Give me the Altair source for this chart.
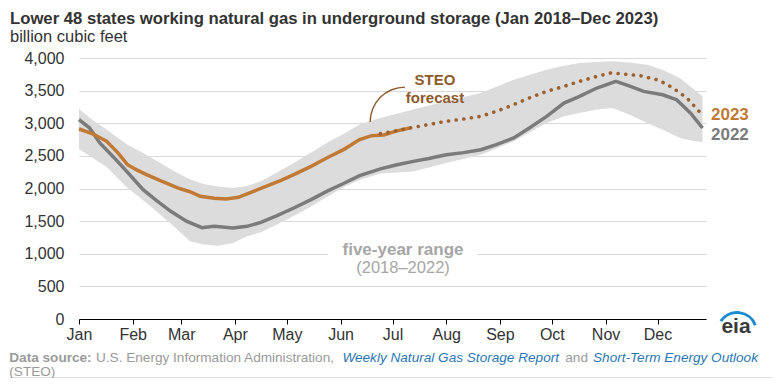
import altair as alt
import pandas as pd

FONT = "Liberation Sans"

month_days = [0, 31, 59, 90, 120, 151, 181, 212, 243, 273, 304, 334]
month_names = ["Jan", "Feb", "Mar", "Apr", "May", "Jun", "Jul", "Aug", "Sep", "Oct", "Nov", "Dec"]

# five-year range (2018-2022), billion cubic feet, by day of year
band_days = [0, 8, 16, 28, 38, 47, 56, 64, 72, 80, 89, 97, 105, 114, 124, 134, 143, 153,
             162, 174, 193, 212, 232, 251, 260, 270, 280, 289, 299, 308, 318, 328, 337,
             347, 353, 360]
band_low = [2606, 2468, 2330, 2008, 1800, 1599, 1390, 1190, 1140, 1124, 1165, 1267, 1330,
            1445, 1580, 1726, 1870, 2023, 2130, 2230, 2262, 2391, 2518, 2723, 2860, 3004,
            3106, 3157, 3209, 3234, 3132, 3004, 2902, 2774, 2740, 2707]
band_high = [3219, 3045, 2900, 2672, 2530, 2391, 2250, 2140, 2070, 2030, 2008, 2040, 2110,
             2240, 2391, 2550, 2698, 2840, 2979, 3081, 3209, 3336, 3464, 3668, 3740, 3821,
             3880, 3923, 3940, 3949, 3930, 3898, 3820, 3690, 3565, 3412]

# 2022
y2022_days = [0, 6, 12, 20, 28, 37, 45, 53, 62, 71, 78, 89, 97, 105, 114, 124, 134, 143, 153,
              162, 174, 183, 193, 202, 212, 222, 232, 241, 251, 260, 270, 280, 289, 299, 310,
              318, 326, 337, 345, 353, 360]
y2022_vals = [3055, 2930, 2698, 2480, 2250, 1982, 1810, 1650, 1500, 1400, 1420, 1395, 1420,
              1481, 1580, 1701, 1830, 1956, 2080, 2197, 2300, 2360, 2416, 2460, 2518, 2550,
              2594, 2672, 2774, 2927, 3106, 3310, 3412, 3540, 3642, 3570, 3488, 3437, 3361,
              3157, 2927]

# 2023 actual
y2023_days = [0, 8, 16, 22, 28, 33, 39, 48, 57, 64, 70, 78, 85, 92, 100, 109, 117, 124, 134,
              143, 153, 162, 169, 176, 183, 191]
y2023_vals = [2912, 2836, 2723, 2560, 2365, 2290, 2212, 2110, 2008, 1950, 1880, 1850, 1840,
              1865, 1950, 2044, 2130, 2212, 2340, 2468, 2600, 2749, 2810, 2820, 2880, 2927]

# 2023 STEO forecast
fc_days = [174, 182, 191, 202, 212, 222, 232, 241, 251, 260, 270, 280, 289, 299, 307, 312,
           324, 335, 343, 351, 358]
fc_vals = [2841, 2876, 2927, 2980, 3030, 3065, 3106, 3183, 3285, 3387, 3488, 3565, 3642,
           3718, 3770, 3760, 3729, 3657, 3540, 3387, 3183]

y_ticks = [0, 500, 1000, 1500, 2000, 2500, 3000, 3500, 4000]

title_text = "Lower 48 states working natural gas in underground storage (Jan 2018\u2013Dec 2023)"
subtitle_text = "billion cubic feet"

ORANGE = "#c17a36"
BROWN = "#8e5b2b"
DOTS = "#9c6130"
GREY = "#7b7b7b"
BAND = "#dcdcdc"
LABEL_GREY = "#a6a6a6"
SRC_GREY = "#9a9a9a"
BLUE = "#2b77b3"

W, H = 627, 261
LEFT, TOP = 79, 58  # page position of plot origin


def px(x):
    return x - LEFT


def py(y):
    return y - TOP


names_js = "[" + ",".join("'%s'" % m for m in month_names) + "]"
days_js = "[" + ",".join(str(d) for d in month_days) + "]"
label_expr = "%s[indexof(%s, datum.value)]" % (names_js, days_js)

x_scale = alt.Scale(domain=[0, 362], nice=False, zero=False)
y_scale = alt.Scale(domain=[0, 4000], nice=False)

x_axis = alt.Axis(values=month_days, labelExpr=label_expr, grid=False, domain=True,
                  domainColor="#000000", domainWidth=1, ticks=True, tickColor="#000000",
                  tickSize=5, labelFontSize=16, labelColor="#333333", labelFont=FONT,
                  labelPadding=2, title=None, labelFlush=False)
y_axis = alt.Axis(values=y_ticks, labelExpr="format(datum.value, ',.0f')", grid=True,
                  gridColor="#d9d9d9", gridWidth=1,
                  domain=False, ticks=False, labelFontSize=16, labelColor="#333333",
                  labelFont=FONT, labelPadding=15, title=None)

band_df = pd.DataFrame({"day": band_days, "low": band_low, "high": band_high})
df22 = pd.DataFrame({"day": y2022_days, "value": y2022_vals})
df23 = pd.DataFrame({"day": y2023_days, "value": y2023_vals})
dffc = pd.DataFrame({"day": fc_days, "value": fc_vals})

X = alt.X("day:Q", scale=x_scale, axis=x_axis)

band = alt.Chart(band_df).mark_area(color=BAND, opacity=1).encode(
    x=X, y=alt.Y("low:Q", scale=y_scale, axis=y_axis), y2="high:Q")

line22 = alt.Chart(df22).mark_line(color=GREY, strokeWidth=3.5).encode(
    x=X, y=alt.Y("value:Q", scale=y_scale, axis=y_axis))
line23 = alt.Chart(df23).mark_line(color=ORANGE, strokeWidth=3.5).encode(
    x=X, y=alt.Y("value:Q", scale=y_scale, axis=y_axis))
linefc = alt.Chart(dffc).mark_line(color=DOTS, strokeWidth=3.6, strokeDash=[0.1, 7.6],
                                   strokeCap="round").encode(
    x=X, y=alt.Y("value:Q", scale=y_scale, axis=y_axis))

one = pd.DataFrame({"k": [0]})

gap = alt.Chart(one).mark_rect(color="white").encode(
    x=alt.value(px(328)), x2=alt.value(px(477)), y=alt.value(py(250)), y2=alt.value(py(258)))


def txt(s, x, y, size, color, weight="normal", style="normal", align="left"):
    return alt.Chart(pd.DataFrame({"t": [s]})).mark_text(
        align=align, baseline="alphabetic", fontSize=size, fontWeight=weight,
        fontStyle=style, color=color, font=FONT).encode(
        x=alt.value(px(x)), y=alt.value(py(y)), text="t:N")


texts = [
    txt(title_text, 10, 23.5, 16.7, "#333333", "bold"),
    txt(subtitle_text, 10, 41.5, 16.5, "#333333"),
    txt("STEO", 435, 85, 15, BROWN, "bold", align="center"),
    txt("forecast", 435, 102.5, 15, BROWN, "bold", align="center"),
    txt("five-year range", 403, 255, 17, LABEL_GREY, "bold", align="center"),
    txt("(2018\u20132022)", 403, 273, 16.5, LABEL_GREY, align="center"),
    txt("2023", 711, 119.5, 17, ORANGE, "bold"),
    txt("2022", 711, 139.5, 17, GREY, "bold"),
    txt("Data source:", 9.3, 362, 13.6, SRC_GREY, "bold"),
    txt("U.S. Energy Information Administration,", 96, 362, 13.6, SRC_GREY),
    txt("Weekly Natural Gas Storage Report", 342.4, 362, 13.6, BLUE, style="italic"),
    txt("and", 565.3, 362, 13.6, SRC_GREY),
    txt("Short-Term Energy Outlook", 593, 362, 13.6, BLUE, style="italic"),
    txt("(STEO)", 9.3, 375.5, 13.6, SRC_GREY),
    txt("eia", 736, 333, 21, "#3a3a3a", "bold", align="center"),
]

steo_arc = alt.Chart(one).mark_arc(theta=4.712, theta2=6.283, innerRadius=34.2,
                                   outerRadius=35.6, color=BROWN).encode(
    x=alt.value(px(405)), y=alt.value(py(122)))

logo_arc = alt.Chart(one).mark_arc(theta=5.3, theta2=7.5, innerRadius=18,
                                   outerRadius=21, color="#1a8bd0").encode(
    x=alt.value(px(737)), y=alt.value(py(332)))

bottom_rule = alt.Chart(one).mark_rule(color="#e0e0e0", strokeWidth=1).encode(
    x=alt.value(px(9)), x2=alt.value(px(772)), y=alt.value(py(377.5)))

chart = alt.layer(band, gap, line22, line23, linefc, steo_arc, logo_arc, bottom_rule,
                  *texts).properties(
    width=W, height=H,
    padding={"left": 71, "top": 50, "right": 67, "bottom": 59},
    autosize=alt.AutoSizeParams(type="none"),
    background="white",
).configure_view(stroke=None)

chart.save("out.html", embed_options={"renderer": "svg", "actions": False})
